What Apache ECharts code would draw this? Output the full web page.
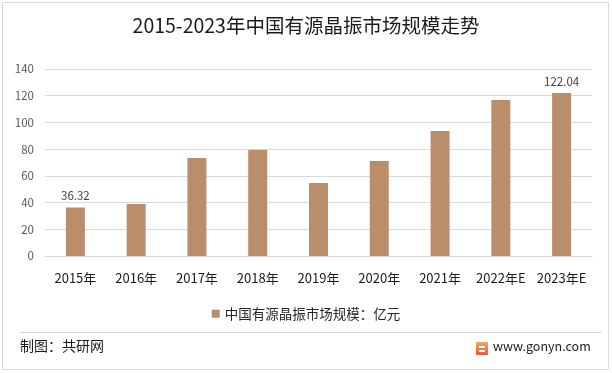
<!DOCTYPE html>
<html>
<head>
<meta charset="utf-8">
<script src="https://cdn.jsdelivr.net/npm/echarts@6/dist/echarts.min.js"></script>
<style>
html,body{margin:0;padding:0;background:#fff;}
#c{width:612px;height:373px;}
</style>
</head>
<body>
<div id="c"></div>
<script>
const categories = ['2015年','2016年','2017年','2018年','2019年','2020年','2021年','2022年E','2023年E'];
const marketSize = [36.32, 39.0, 73.4, 79.4, 54.6, 71.1, 93.6, 116.8, 122.04];
const labeledIndexes = [0, 8];
const yTicks = {min: 0, max: 140, interval: 20};
const seriesName = '中国有源晶振市场规模：亿元';
const titleText = '2015-2023年中国有源晶振市场规模走势';
const sourceText = '制图：共研网';
const siteText = 'www.gonyn.com';

const FONT = '"Noto Sans CJK SC", "Noto Sans", sans-serif';
const chart = echarts.init(document.getElementById('c'), null, {renderer: 'canvas'});
chart.setOption({
  backgroundColor: '#fff',
  animation: false,
  textStyle: {fontFamily: FONT},
  title: {
    text: titleText, left: 'center', top: 11,
    textStyle: {fontSize: 19.5, fontWeight: 'normal', color: '#1a1a1a', fontFamily: FONT}
  },
  legend: {
    data: [seriesName], top: 302, left: 'center',
    itemWidth: 8, itemHeight: 8, icon: 'rect', itemGap: 4,
    textStyle: {fontSize: 13.5, color: '#262626', fontFamily: FONT}
  },
  grid: {left: 45, right: 20, top: 69, bottom: 117, containLabel: false},
  xAxis: {
    type: 'category', data: categories,
    axisLine: {lineStyle: {color: '#D9D9D9'}},
    axisTick: {show: false},
    axisLabel: {color: '#1a1a1a', fontSize: 13, margin: 16, interval: 0, fontFamily: FONT}
  },
  yAxis: {
    type: 'value', min: yTicks.min, max: yTicks.max, interval: yTicks.interval,
    axisLine: {show: false}, axisTick: {show: false},
    splitLine: {lineStyle: {color: '#D9D9D9'}},
    axisLabel: {color: '#595959', fontSize: 11.5, margin: 11, fontFamily: FONT}
  },
  series: [{
    name: seriesName, type: 'bar', barWidth: 19,
    itemStyle: {color: '#BB8E6B'},
    data: marketSize.map((v, i) => ({
      value: v,
      label: {
        show: labeledIndexes.includes(i), position: 'top', distance: 6,
        formatter: () => v.toFixed(2), color: '#404040', fontSize: 11.5, fontFamily: FONT
      }
    }))
  }],
  graphic: [
    {type: 'rect', shape: {x: 2.5, y: 2.5, width: 606, height: 367}, style: {fill: 'none', stroke: '#D9D9D9', lineWidth: 1}, silent: true},
    {type: 'line', shape: {x1: 20, y1: 332.5, x2: 602, y2: 332.5}, style: {stroke: '#D9D9D9', lineWidth: 1}},
    {type: 'text', left: 20, top: 339, style: {text: sourceText, fontSize: 14, fill: '#1a1a1a', fontFamily: FONT}},
    {type: 'rect', shape: {x: 476, y: 342, width: 12, height: 13, r: 1},
      style: {fill: new echarts.graphic.LinearGradient(0, 0, 0, 1, [{offset: 0, color: '#F5A65B'}, {offset: 1, color: '#E9573F'}])}},
    {type: 'rect', shape: {x: 479, y: 346, width: 6, height: 2}, style: {fill: '#fff'}},
    {type: 'rect', shape: {x: 479, y: 350, width: 6, height: 2}, style: {fill: '#fff'}},
    {type: 'text', left: 493, top: 340, style: {text: siteText, fontSize: 12.5, fill: '#1a1a1a', fontFamily: FONT}}
  ]
});
</script>
</body>
</html>
